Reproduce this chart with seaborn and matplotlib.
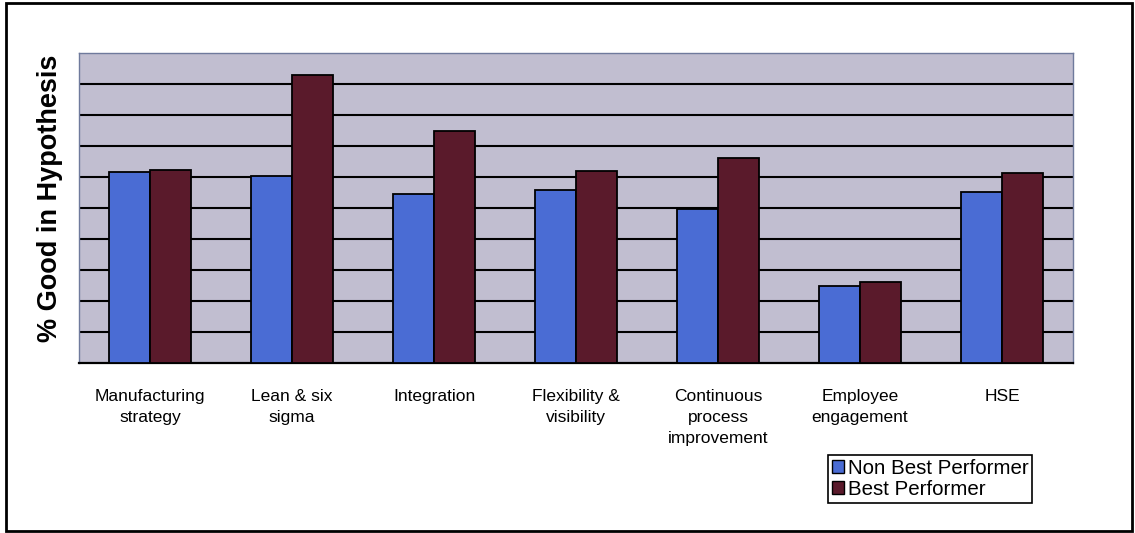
import matplotlib
matplotlib.use("Agg")
import matplotlib.pyplot as plt
import seaborn as sns
import pandas as pd
from matplotlib.patches import Rectangle, Patch

# Share of respondents rating each practice "good" (%)
categories = [
    "Manufacturing\nstrategy",
    "Lean & six\nsigma",
    "Integration",
    "Flexibility &\nvisibility",
    "Continuous\nprocess\nimprovement",
    "Employee\nengagement",
    "HSE",
]
series_names = ["Non Best Performer", "Best Performer"]
non_best = [61.7, 60.3, 54.6, 55.7, 49.8, 24.8, 55.1]
best = [62.2, 92.8, 74.7, 61.9, 66.1, 26.2, 61.3]

colors = {"Non Best Performer": "#4a6cd4", "Best Performer": "#5a1a2b"}

df = pd.DataFrame({
    "category": categories * 2,
    "group": [series_names[0]] * len(categories) + [series_names[1]] * len(categories),
    "value": non_best + best,
})

sns.set_theme(style="white")
plt.rcParams["font.family"] = ["Liberation Sans", "DejaVu Sans"]
plt.rcParams["text.color"] = "black"
plt.rcParams["axes.labelcolor"] = "black"

fig = plt.figure(figsize=(11.35, 5.33), dpi=100)
ax = fig.add_axes([0.0696, 0.319, 0.8758, 0.5816])
ax.set_facecolor("#c1bed0")

sns.barplot(data=df, x="category", y="value", hue="group", order=categories,
            hue_order=series_names, palette=colors, width=0.58,
            edgecolor="black", linewidth=1.3, saturation=1, ax=ax,
            legend=False, zorder=3)

ax.set_ylim(0, 100)
ax.set_xlim(-0.5, len(categories) - 0.5)
ax.set_yticks(range(10, 100, 10))
ax.yaxis.grid(True, color="black", linewidth=1.5, zorder=1)
ax.set_axisbelow(True)
ax.tick_params(axis="y", left=False, labelleft=False)

# category labels centred, tick marks on the boundaries
ax.set_xticks(range(len(categories)))
ax.set_xticklabels(categories, fontsize=12.5, linespacing=1.5)
ax.tick_params(axis="x", which="major", length=0, pad=19, colors="black")
ax.set_xticks([i - 0.5 for i in range(len(categories) + 1)], minor=True)
ax.tick_params(axis="x", which="minor", length=5, width=1.3, color="black", direction="out")

ax.set_xlabel("")
ax.set_ylabel("% Good in Hypothesis", fontsize=19.5, fontweight="bold", color="black")
ax.yaxis.set_label_coords(-0.016, 0.53)

for side in ("top", "left", "right"):
    ax.spines[side].set_color("#6f7a9c")
    ax.spines[side].set_linewidth(1.0)
ax.spines["bottom"].set_color("black")
ax.spines["bottom"].set_linewidth(1.6)

handles = [Patch(facecolor=colors[n], edgecolor="black", linewidth=1.0) for n in series_names]
leg = ax.legend(handles, series_names, loc="lower left",
                bbox_to_anchor=(0.7295, 0.0563), bbox_transform=fig.transFigure,
                fontsize=14.8, frameon=True, fancybox=False, framealpha=1,
                handlelength=0.6, handleheight=0.6, handletextpad=0.15,
                borderpad=0.2, labelspacing=0.1, borderaxespad=0)
leg.get_frame().set_edgecolor("black")
leg.get_frame().set_linewidth(1.2)

# outer frame around the whole chart
fig.patches.append(Rectangle((0.005, 0.004), 0.992, 0.99, transform=fig.transFigure,
                             fill=False, edgecolor="black", linewidth=2))

fig.savefig("out.png", dpi=100)
